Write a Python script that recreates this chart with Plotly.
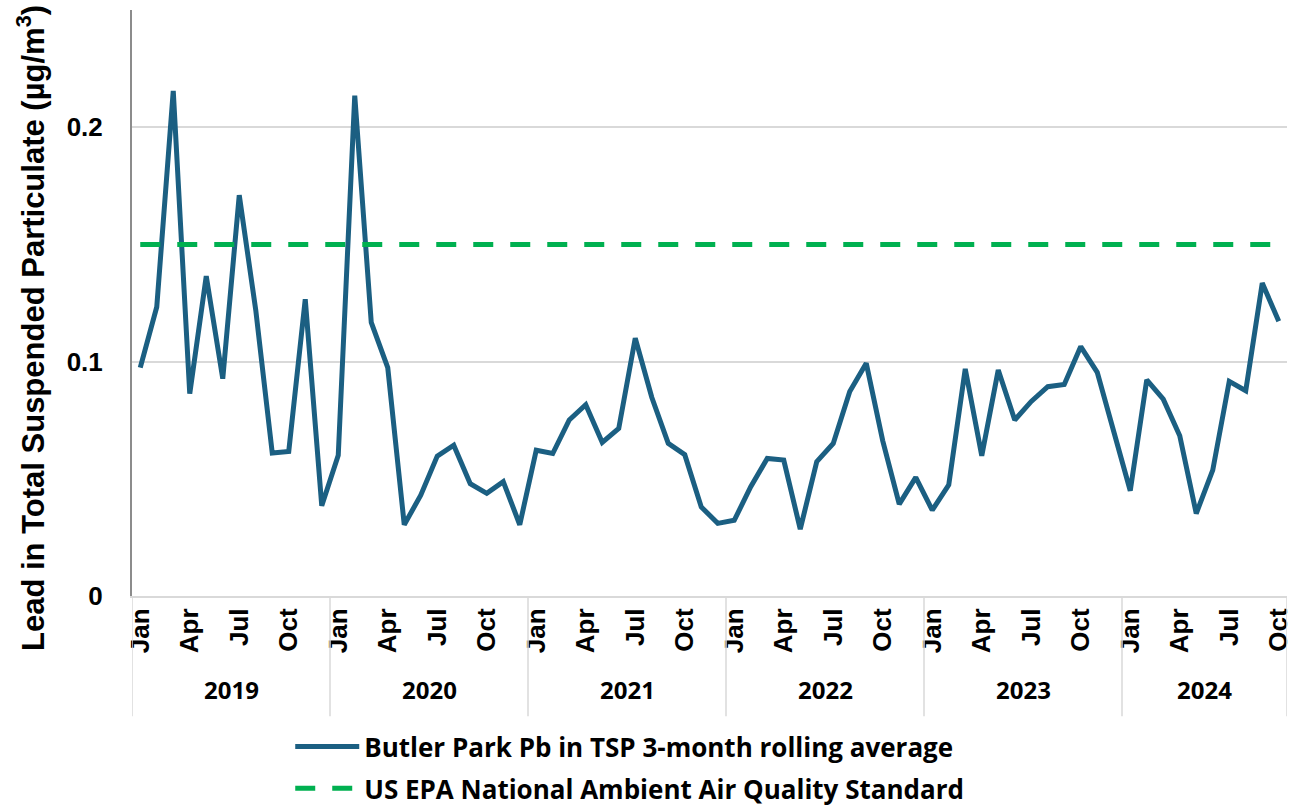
import plotly.graph_objects as go

years = ["2019", "2020", "2021", "2022", "2023", "2024"]
month_names = ["Jan", "Feb", "Mar", "Apr", "May", "Jun", "Jul", "Aug", "Sep", "Oct", "Nov", "Dec"]
months_per_year = [12, 12, 12, 12, 12, 10]

pb_values = [
    0.0974, 0.1233, 0.2155, 0.0863, 0.1365, 0.0927, 0.1710, 0.1220, 0.0610, 0.0617, 0.1266, 0.0385,
    0.0600, 0.2135, 0.1167, 0.0974, 0.0304, 0.0430, 0.0597, 0.0643, 0.0479, 0.0438, 0.0488, 0.0304,
    0.0622, 0.0608, 0.0751, 0.0816, 0.0655, 0.0715, 0.1100, 0.0848, 0.0651, 0.0603, 0.0380, 0.0310,
    0.0323, 0.0466, 0.0587, 0.0580, 0.0285, 0.0573, 0.0651, 0.0872, 0.0993, 0.0662, 0.0392, 0.0506,
    0.0366, 0.0474, 0.0969, 0.0598, 0.0964, 0.0751, 0.0830, 0.0893, 0.0902, 0.1064, 0.0954, 0.0698,
    0.0449, 0.0922, 0.0840, 0.0684, 0.0352, 0.0537, 0.0916, 0.0876, 0.1335, 0.1172,
]
epa_standard = 0.15
shown_months = ["Jan", "Apr", "Jul", "Oct"]

# build month/year index
labels = []
year_of = []
for y, n in zip(years, months_per_year):
    for m in month_names[:n]:
        labels.append(m)
        year_of.append(y)
xs = list(range(len(labels)))

BLUE = "#1B5F82"
GREEN = "#00B050"
FONT = "Liberation Sans, Arial, sans-serif"
FONT2 = "Open Sans, Roboto, Arial, sans-serif"

fig = go.Figure()
fig.add_trace(go.Scatter(
    x=xs, y=pb_values, mode="lines",
    line=dict(color=BLUE, width=5),
    name="Butler Park Pb in TSP 3-month rolling average",
    legendgroup="a",
))
fig.add_trace(go.Scatter(
    x=xs, y=[epa_standard] * len(xs), mode="lines",
    line=dict(color=GREEN, width=5, dash="20px,17px"),
    name="US EPA National Ambient Air Quality Standard",
    legendgroup="b",
))

tickvals = [i for i, m in enumerate(labels) if m in shown_months]
ticktext = [labels[i] for i in tickvals]

fig.update_xaxes(
    range=[-0.5, len(xs) - 0.5],
    tickvals=tickvals, ticktext=ticktext, tickangle=-90,
    tickfont=dict(family=FONT, size=26, color="black", weight="bold"),
    showgrid=False, zeroline=False,
    showline=True, linecolor="#D9D9D9", linewidth=2,
    ticks="", automargin=False, ticklabeloverflow="allow",
)
fig.update_yaxes(
    range=[0, 0.25], tickvals=[0, 0.1, 0.2], ticktext=["0", "0.1", "0.2"],
    tickfont=dict(family=FONT, size=26, color="black", weight="bold"),
    showgrid=True, gridcolor="#D9D9D9", gridwidth=1.5,
    zeroline=False, showline=True, linecolor="#8C8C8C", linewidth=2,
    ticks="", ticklabelstandoff=22, automargin=False,
)

# year group dividers and labels
bottom = -0.205
start = 0
shapes = [dict(type="line", xref="x", yref="paper", x0=-0.5, x1=-0.5, y0=0, y1=bottom,
               line=dict(color="#D9D9D9", width=1.5))]
annotations = []
for y, n in zip(years, months_per_year):
    end = start + n
    shapes.append(dict(type="line", xref="x", yref="paper", x0=end - 0.5, x1=end - 0.5,
                       y0=0, y1=bottom, line=dict(color="#D9D9D9", width=1.5)))
    annotations.append(dict(x=(start + end - 1) / 2, y=-0.16, xref="x", yref="paper",
                            text=y, showarrow=False, yanchor="middle",
                            font=dict(family=FONT2, size=24, color="black", weight="bold")))
    start = end

annotations.append(dict(
    x=-0.088, y=0.458, xref="paper", yref="paper", textangle=-90,
    text="Lead in Total Suspended Particulate (µg/m<sup>3</sup>)", showarrow=False,
    xanchor="center", yanchor="middle",
    font=dict(family=FONT, size=31, color="black", weight="bold"),
))

fig.update_layout(
    width=1289, height=806,
    margin=dict(l=132, r=2, t=10, b=210, autoexpand=False),
    plot_bgcolor="white", paper_bgcolor="white",
    shapes=shapes, annotations=annotations,
    showlegend=True,
    legend=dict(orientation="v", x=0.137, xanchor="left", y=-0.217, yanchor="top",
                font=dict(family=FONT2, size=26, color="black", weight="bold"),
                itemwidth=64, tracegroupgap=5, bgcolor="rgba(0,0,0,0)"),
)

fig.write_html("out.html", config={"displayModeBar": False},
               post_script="document.body.style.margin='0';")
